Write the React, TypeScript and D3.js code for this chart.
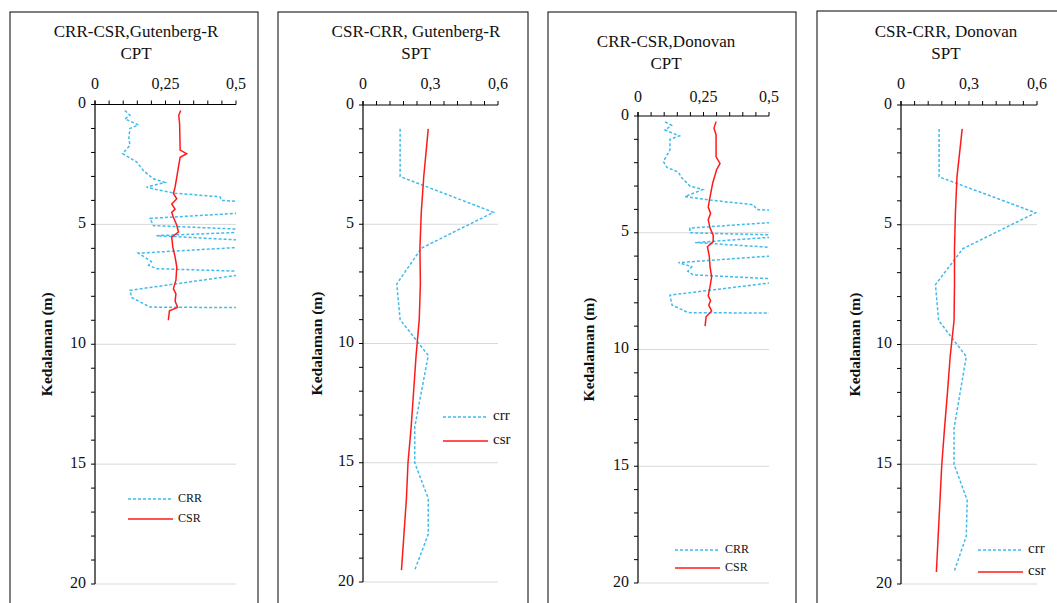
import React from "react";
import * as d3 from "d3";

// ---------- DATA ----------
// Panel 1: CPT, Gutenberg-Richter
const cptGutCrrDepth = [0.25, 0.45, 0.6, 0.85, 1.0, 1.4, 1.7, 2.05, 2.4, 2.75, 3.1, 3.25, 3.45, 3.55, 3.7, 3.85, 4.0, 4.3, 4.75, 5.05, 5.27, 5.47, 5.8, 6.2, 6.55, 6.7, 6.85, 6.98, 7.75, 8.05, 8.45, 8.5];
const cptGutCrr = [0.106, 0.124, 0.106, 0.154, 0.124, 0.12, 0.124, 0.098, 0.148, 0.171, 0.207, 0.248, 0.183, 0.218, 0.284, 0.443, 0.449, 0.85, 0.195, 0.207, 0.65, 0.218, 0.75, 0.154, 0.2, 0.19, 0.218, 0.59, 0.124, 0.13, 0.195, 0.9];
const cptGutCsrDepth = [0.25, 0.45, 0.8, 1.9, 2.05, 2.2, 2.6, 3.03, 3.44, 3.72, 3.93, 4.15, 4.36, 4.5, 4.7, 5.04, 5.32, 5.53, 5.95, 6.36, 6.78, 7.33, 7.68, 7.9, 8.2, 8.46, 8.6, 9.0];
const cptGutCsr = [0.304, 0.297, 0.3, 0.302, 0.325, 0.302, 0.296, 0.29, 0.284, 0.278, 0.29, 0.272, 0.284, 0.272, 0.278, 0.29, 0.296, 0.272, 0.276, 0.284, 0.29, 0.287, 0.278, 0.287, 0.284, 0.293, 0.264, 0.26];

// Panel 2: SPT, Gutenberg-Richter
const sptDepth = [1, 3, 4.5, 6, 7.5, 9, 10.5, 12, 13.5, 15, 16.5, 18, 19.5];
const sptGutCrr = [0.165, 0.165, 0.58, 0.26, 0.15, 0.165, 0.29, 0.26, 0.23, 0.23, 0.29, 0.29, 0.23];
const sptGutCsr = [0.29, 0.27, 0.259, 0.253, 0.255, 0.25, 0.236, 0.225, 0.214, 0.2, 0.193, 0.182, 0.171];

// Panel 3: CPT, Donovan
const cptDonCrrDepth = [0.25, 0.4, 0.6, 0.85, 1.0, 1.45, 1.95, 2.2, 2.4, 2.65, 3.0, 3.15, 3.45, 3.6, 3.8, 4.0, 4.3, 4.8, 5.0, 5.12, 5.42, 5.8, 6.28, 6.45, 6.65, 6.8, 7.02, 7.67, 8.1, 8.42, 8.47];
const cptDonCrr = [0.103, 0.128, 0.103, 0.158, 0.122, 0.122, 0.097, 0.11, 0.154, 0.167, 0.198, 0.247, 0.179, 0.275, 0.44, 0.453, 0.85, 0.198, 0.198, 0.6, 0.218, 0.75, 0.154, 0.205, 0.19, 0.21, 0.6, 0.122, 0.13, 0.192, 0.9];
const cptDonCsrDepth = [0.24, 0.52, 0.8, 1.75, 2.03, 2.3, 2.88, 3.46, 3.9, 4.17, 4.45, 4.8, 5.1, 5.38, 5.6, 6.0, 6.45, 6.9, 7.3, 7.7, 7.9, 8.1, 8.35, 8.6, 9.0];
const cptDonCsr = [0.298, 0.29, 0.298, 0.298, 0.313, 0.3, 0.285, 0.275, 0.268, 0.277, 0.268, 0.275, 0.287, 0.287, 0.265, 0.272, 0.275, 0.281, 0.275, 0.268, 0.277, 0.27, 0.281, 0.26, 0.256];

// Panel 4: SPT, Donovan
const sptDonCrr = [0.168, 0.168, 0.594, 0.273, 0.152, 0.166, 0.288, 0.261, 0.234, 0.234, 0.292, 0.288, 0.234];
const sptDonCsr = [0.27, 0.247, 0.24, 0.236, 0.236, 0.234, 0.217, 0.205, 0.192, 0.18, 0.172, 0.164, 0.156];

// Axis ticks
const depthMajorTicks = [0, 5, 10, 15, 20];
const cptXTicks = [0, 0.25, 0.5];
const sptXTicks = [0, 0.3, 0.6];
const fmtComma = (v: number) => String(v).replace(".", ",");

type Panel = {
  id: string;
  frame: { x: number; y: number; w: number };
  titles: string[];
  titleX: number;
  titleY: number[];
  plot: { x0: number; x1: number; y0: number; y1: number };
  xMax: number;
  xTicks: number[];
  xLabelY: number;
  yLabel: string;
  yLabelX: number;
  crr: { d: number[]; v: number[] };
  csr: { d: number[]; v: number[] };
  legend: { x: number; y: number[]; labels: string[]; size: number };
};

const panels: Panel[] = [
  {
    id: "p1",
    frame: { x: 10, y: 12, w: 248 },
    titles: ["CRR-CSR,Gutenberg-R", "CPT"],
    titleX: 136,
    titleY: [33, 55],
    plot: { x0: 95, x1: 236, y0: 104.5, y1: 584 },
    xMax: 0.5,
    xTicks: cptXTicks,
    xLabelY: 85,
    yLabel: "Kedalaman  (m)",
    yLabelX: 48,
    crr: { d: cptGutCrrDepth, v: cptGutCrr },
    csr: { d: cptGutCsrDepth, v: cptGutCsr },
    legend: { x: 128, y: [499, 519], labels: ["CRR", "CSR"], size: 12 },
  },
  {
    id: "p2",
    frame: { x: 278, y: 12, w: 250 },
    titles: ["CSR-CRR, Gutenberg-R", "SPT"],
    titleX: 416,
    titleY: [33, 55],
    plot: { x0: 363, x1: 498, y0: 105, y1: 582 },
    xMax: 0.6,
    xTicks: sptXTicks,
    xLabelY: 85,
    yLabel: "Kedalaman (m)",
    yLabelX: 318,
    crr: { d: sptDepth, v: sptGutCrr },
    csr: { d: sptDepth, v: sptGutCsr },
    legend: { x: 443, y: [417, 441], labels: ["crr", "csr"], size: 15 },
  },
  {
    id: "p3",
    frame: { x: 548, y: 12, w: 248 },
    titles: ["CRR-CSR,Donovan", "CPT"],
    titleX: 666,
    titleY: [43, 65],
    plot: { x0: 638, x1: 769, y0: 116, y1: 583 },
    xMax: 0.5,
    xTicks: cptXTicks,
    xLabelY: 98,
    yLabel: "Kedalaman (m)",
    yLabelX: 590,
    crr: { d: cptDonCrrDepth, v: cptDonCrr },
    csr: { d: cptDonCsrDepth, v: cptDonCsr },
    legend: { x: 675, y: [550, 568], labels: ["CRR", "CSR"], size: 12 },
  },
  {
    id: "p4",
    frame: { x: 817, y: 11, w: 260 },
    titles: ["CSR-CRR, Donovan", "SPT"],
    titleX: 946,
    titleY: [33, 55],
    plot: { x0: 901, x1: 1037, y0: 105, y1: 584 },
    xMax: 0.6,
    xTicks: sptXTicks,
    xLabelY: 85,
    yLabel: "Kedalaman (m)",
    yLabelX: 856,
    crr: { d: sptDepth, v: sptDonCrr },
    csr: { d: sptDepth, v: sptDonCsr },
    legend: { x: 978, y: [550, 572], labels: ["crr", "csr"], size: 15 },
  },
];

const BLUE = "#40bbec";
const RED = "#ff1a1a";
const FONT = "'Liberation Serif', 'Times New Roman', serif";

function PanelView({ p }: { p: Panel }) {
  const x = d3.scaleLinear().domain([0, p.xMax]).range([p.plot.x0, p.plot.x1]);
  const y = d3.scaleLinear().domain([0, 20]).range([p.plot.y0, p.plot.y1]);
  const line = d3
    .line<[number, number]>()
    .x((d) => x(d[1]))
    .y((d) => y(d[0]));
  const crrPts = p.crr.d.map((d, i) => [d, p.crr.v[i]] as [number, number]);
  const csrPts = p.csr.d.map((d, i) => [d, p.csr.v[i]] as [number, number]);
  const minorX = d3.range(0, 11).map((i) => (p.xMax / 10) * i);
  const minorY = d3.range(0, 21);
  const clipId = `clip-${p.id}`;
  return (
    <g>
      <defs>
        <clipPath id={clipId}>
          <rect x={p.plot.x0} y={p.plot.y0 - 1} width={p.plot.x1 - p.plot.x0} height={p.plot.y1 - p.plot.y0 + 2} />
        </clipPath>
      </defs>
      <rect x={p.frame.x} y={p.frame.y} width={p.frame.w} height={700} fill="white" stroke="#000" strokeWidth={1} />
      {p.titles.map((t, i) => (
        <text key={i} x={p.titleX} y={p.titleY[i]} textAnchor="middle" dominantBaseline="middle" fontFamily={FONT} fontSize={17} fill="#111">
          {t}
        </text>
      ))}
      {depthMajorTicks.filter((t) => t > 0).map((t) => (
        <line key={t} x1={p.plot.x0} x2={p.plot.x1} y1={y(t)} y2={y(t)} stroke="#d9d9d9" strokeWidth={1} />
      ))}
      <g clipPath={`url(#${clipId})`}>
        <path d={line(crrPts) || ""} fill="none" stroke={BLUE} strokeWidth={1.5} strokeDasharray="3,2" />
        <path d={line(csrPts) || ""} fill="none" stroke={RED} strokeWidth={1.5} />
      </g>
      <line x1={p.plot.x0} x2={p.plot.x1} y1={p.plot.y0} y2={p.plot.y0} stroke="#000" strokeWidth={1} />
      {minorX.map((v, i) => (
        <line key={i} x1={x(v)} x2={x(v)} y1={p.plot.y0} y2={p.plot.y0 - 4} stroke="#000" strokeWidth={1} />
      ))}
      {p.xTicks.map((v) => (
        <text key={v} x={x(v)} y={p.xLabelY} textAnchor="middle" dominantBaseline="middle" fontFamily={FONT} fontSize={16} fill="#111">
          {fmtComma(v)}
        </text>
      ))}
      <line x1={p.plot.x0} x2={p.plot.x0} y1={p.plot.y0 - 4} y2={p.plot.y1} stroke="#000" strokeWidth={1.2} />
      {minorY.map((v) => (
        <line key={v} x1={p.plot.x0 - 4} x2={p.plot.x0} y1={y(v)} y2={y(v)} stroke="#000" strokeWidth={1} />
      ))}
      {depthMajorTicks.map((v) => (
        <text key={v} x={p.plot.x0 - 9} y={y(v)} textAnchor="end" dominantBaseline="middle" fontFamily={FONT} fontSize={16} fill="#111">
          {v}
        </text>
      ))}
      <text
        transform={`translate(${p.yLabelX},${(p.plot.y0 + p.plot.y1) / 2}) rotate(-90)`}
        textAnchor="middle"
        dominantBaseline="middle"
        fontFamily={FONT}
        fontSize={15.5}
        fontWeight="bold"
        fill="#111"
      >
        {p.yLabel}
      </text>
      {p.legend.labels.map((lab, i) => (
        <g key={lab}>
          <line
            x1={p.legend.x}
            x2={p.legend.x + 45}
            y1={p.legend.y[i]}
            y2={p.legend.y[i]}
            stroke={i === 0 ? BLUE : RED}
            strokeWidth={1.5}
            strokeDasharray={i === 0 ? "3,2" : undefined}
          />
          <text x={p.legend.x + 50} y={p.legend.y[i]} dominantBaseline="middle" fontFamily={FONT} fontSize={p.legend.size} fill="#111">
            {lab}
          </text>
        </g>
      ))}
    </g>
  );
}

export default function App() {
  return (
    <svg width={1057} height={603} style={{ position: "absolute", left: 0, top: 0, background: "white" }}>
      <rect x={0} y={0} width={1057} height={603} fill="white" />
      {panels.map((p) => (
        <PanelView key={p.id} p={p} />
      ))}
    </svg>
  );
}
